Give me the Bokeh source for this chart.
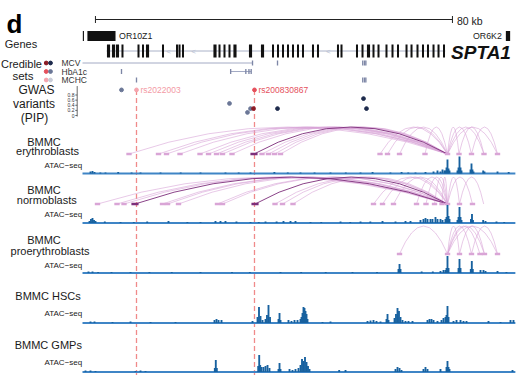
from bokeh.plotting import figure
from bokeh.models import Range1d
from bokeh.core.properties import value
from bokeh.embed import file_html
from bokeh.resources import INLINE

FONT = "Liberation Sans"

# ---------------- DATA (genomic positions in kb from the left edge of the view) ----------------
view_end_kb = 97.0
scale_bar_start_kb = 2.9
scale_bar_kb = 80

small_gene_names = ["OR10Z1", "OR6K2"]
small_gene_start = [1.1, 94.87]
small_gene_end = [7.4, 95.83]
or10z1_extra_exon = [0.2]

spta1_start = 5.4
spta1_end = 81.3
spta1_exons = [5.83, 6.95, 7.84, 8.96, 12.55, 13.56, 14.57, 18.04, 21.18, 21.74, 22.52,
               29.69, 30.70, 31.82, 32.94, 34.17, 37.65, 40.34, 42.69, 43.81, 44.93, 46.05,
               47.17, 48.29, 49.41, 51.65, 52.77, 57.25, 58.04, 61.51, 62.75, 64.09, 65.21,
               66.33, 68.12, 69.47, 70.70, 72.61, 73.73, 75.07, 76.30, 77.42, 78.66, 79.78, 81.01]
spta1_thick_exons = [5.83, 6.95, 7.84, 14.57, 29.69, 34.17, 37.65, 40.34, 64.09]
spta1_arrows = [19.3, 24.9, 55.1]

traits = ["MCV", "HbA1c", "MCHC"]
trait_lead_color = ["#8b1c26", "#e5505c", "#f5a5ae"]
trait_other_color = ["#1d2a4c", "#6b7797", "#c9cdd9"]

cs_span_trait = ["MCV", "HbA1c"]
cs_span_start = [0.0, 33.2]
cs_span_end = [38.1, 37.8]
cs_var_trait = ["MCV", "MCV", "MCV", "MCV", "MCV",
                "HbA1c", "HbA1c", "HbA1c", "HbA1c", "HbA1c",
                "MCHC", "MCHC", "MCHC", "MCHC"]
cs_var_pos = [38.1, 43.7, 62.8, 63.2, 63.5,
              8.74, 33.2, 36.6, 37.3, 37.8,
              12.1, 62.8, 63.2, 63.5]

gw_pos = [8.74, 12.1, 32.94, 36.97, 37.65, 38.32, 38.54, 43.7, 62.97, 63.64]
gw_pip = [1.0, 1.0, 0.47, 0.12, 0.27, 0.27, 1.0, 0.27, 0.66, 0.27]
gw_trait = ["HbA1c", "MCHC", "HbA1c", "HbA1c", "HbA1c", "MCV", "HbA1c", "MCV", "MCV", "MCV"]
gw_lead = [False, True, False, False, False, True, True, False, False, False]
pip_ticks = [0, 0.2, 0.4, 0.6, 0.8]
pip_tick_labels = ["0", "0.2", "0.4", "0.6", "0.8"]

hl_names = ["rs2022003", "rs200830867"]
hl_pos = [12.1, 38.54]
hl_pip = [1.0, 1.0]
hl_colors = ["#f39aa5", "#e5505c"]

hub_kb = 81.8
ery_anchors = [10.42, 17.03, 18.82, 21.85, 26.33, 28.24, 30.03, 31.37, 33.50, 38.43, 40.22,
               41.68, 43.03, 44.37, 66.67, 68.35, 71.04, 76.75, 84.37, 87.17, 89.97, 93.0]
ery_strong = [38.43]
ery_extra_start = [84.37, 87.17]
ery_extra_end = [89.97, 93.0]

nor_anchors = [3.36, 7.73, 9.30, 11.76, 17.93, 19.05, 21.51, 30.25, 31.37, 38.66, 43.14,
               44.82, 47.17, 65.21, 67.23, 69.69, 74.85, 76.97, 78.88, 80.56, 84.48, 87.39]
nor_strong = [11.76, 38.66]
nor_extra_start = [84.48]
nor_extra_end = [89.9]

pro_anchors = [71.04, 84.48, 87.17, 89.07, 90.08, 93.0]
pro_strong = []
pro_extra_start = [84.48, 87.17]
pro_extra_end = [90.08, 93.0]

ery_x = [1.79, 2.24, 2.69, 5.15, 13.0, 17.48, 26.44, 32.04, 37.65, 48.85, 55.57, 62.30, 69.0,
         74.62, 76.86, 78.66, 79.55, 80.22, 80.67, 81.12, 81.34, 81.57, 81.79, 82.02, 82.24,
         84.03, 84.26, 84.48, 84.71, 84.93, 86.95, 87.17, 87.39, 87.62, 89.79, 90.08, 93.0]
ery_h = [2, 2.5, 1.5, 1, 1, 1, 1, 1, 1, 1, 1, 1, 1,
         1, 1.5, 2, 3, 2, 4, 3, 3, 6, 14, 5, 3,
         3, 6, 17, 6, 3, 4, 10, 4, 2, 3, 2, 2]
ery_bg_x = [4.0, 8.0, 11.0, 22.0, 35.0, 43.0, 46.0, 52.0, 59.0, 65.0, 71.5, 73.0, 95.5]
ery_bg_h = [1, 1.5, 1, 1, 1, 1.5, 1, 1, 1, 1.5, 1.5, 1, 1.5]

nor_x = [1.57, 1.90, 2.24, 2.58, 2.91, 8.52, 19.27, 26.44, 29.80, 30.92, 32.04, 37.65, 41.01,
         45.04, 46.61, 47.73, 51.09, 57.82, 62.30, 67.23, 70.14, 72.38, 73.50, 75.74, 76.41,
         76.86, 77.31, 77.98, 78.43, 79.10, 79.55, 80.22, 80.67, 81.34, 81.57, 81.79, 82.02,
         82.24, 84.03, 84.26, 84.48, 84.71, 84.93, 87.05, 87.28, 87.50, 89.79, 90.31, 92.77]
nor_h = [2, 4, 5, 3, 2, 1, 2, 1, 2, 2, 2, 1, 1.5,
         2, 2, 2, 1, 1.5, 1.5, 2, 1.5, 2, 2, 3, 4,
         5, 4, 4, 4, 6, 4, 4, 3, 4, 6, 18, 7,
         4, 3, 6, 16, 6, 3, 4, 9, 3, 3, 2, 1.5]
nor_bg_x = [5.0, 11.5, 14.5, 23.5, 34.5, 39.5, 43.5, 53.5, 60.0, 64.5, 94.5]
nor_bg_h = [1.5, 1, 1.5, 1, 1.5, 1, 1.5, 1, 1, 1.5, 1]

pro_x = [1.34, 2.24, 10.76, 26.44, 44.37, 70.81, 71.04, 71.26, 80.22, 80.90, 81.34, 81.57,
         81.79, 82.02, 84.26, 84.48, 84.71, 87.01, 87.24, 87.46, 89.19, 89.86, 90.31, 93.0]
pro_h = [1.5, 1.5, 1, 1, 1, 4, 9, 4, 2, 3, 3, 5,
         17, 5, 5, 14, 5, 4, 12, 4, 3, 3, 2, 2]
pro_bg_x = [3.5, 6.5, 15.0, 20.0, 33.5, 37.5, 49.0, 54.5, 60.5, 66.0, 76.0, 78.5, 95.0]
pro_bg_h = [1, 1, 1, 1, 1, 1, 1, 1, 1, 1, 1.5, 1.5, 1]

hsc_x = [1.79, 2.69, 6.72, 10.76, 15.24, 20.84, 29.58, 30.03, 30.48, 31.15, 38.10, 39.22,
         39.55, 39.89, 40.34, 41.01, 41.34, 41.68, 42.02, 43.92, 44.15, 44.37, 46.16, 46.83,
         47.51, 48.18, 48.85, 49.08, 49.30, 49.52, 49.75, 49.97, 50.20, 50.42, 53.78, 55.57,
         63.87, 64.54, 65.21, 65.88, 66.78, 68.12, 68.35, 68.57, 69.92, 70.25, 70.59, 70.92,
         71.26, 71.71, 72.38, 73.05, 73.95, 77.31, 77.76, 78.21, 78.66, 79.55, 80.45, 80.90,
         81.34, 81.57, 81.79, 82.02, 83.14, 83.81, 84.71, 85.38, 86.05, 90.98, 93.67, 95.91, 96.58]
hsc_h = [1.5, 1.5, 1, 1.5, 1, 1, 3, 4, 3, 3, 2, 6,
         16, 7, 3, 4, 8, 18, 6, 4, 10, 3, 3, 2,
         3, 3, 4, 6, 10, 16, 15, 12, 9, 4, 1, 1.5,
         2, 2.5, 3, 2, 1.5, 4, 9, 3, 5, 9, 15, 12,
         6, 3, 2, 2, 2, 3, 4, 4, 3, 2, 3, 5,
         6, 8, 17, 6, 2, 3, 3, 2, 2, 2, 1, 3, 3]

gmp_x = [0.67, 1.79, 2.91, 11.88, 13.0, 14.12, 29.65, 29.87, 30.10, 39.37, 39.60, 39.82,
         40.11, 40.56, 41.01, 41.46, 41.90, 43.92, 44.15, 44.37, 46.39, 47.06, 47.73, 48.40,
         48.85, 49.19, 49.52, 49.86, 50.20, 50.53, 50.87, 57.52, 58.94, 70.14, 70.59, 71.04,
         71.48, 76.41, 76.86, 77.31, 80.22, 81.57, 81.79, 82.02, 82.24, 96.36]
gmp_h = [1.5, 1.5, 1, 1, 1.5, 1, 4, 12, 4, 6, 17, 7,
         5, 5, 6, 7, 4, 3, 9, 3, 3, 2, 3, 4,
         7, 13, 11, 15, 10, 6, 3, 2, 2, 3, 5, 4,
         2, 3, 5, 3, 3, 5, 11, 5, 3, 2]

# ---------------- LAYOUT (canvas pixel = picture pixel) ----------------
W, H = 520, 378
PX_PER_KB = 4.4625
TRACK_LEFT_PX = 82
X0 = -TRACK_LEFT_PX / PX_PER_KB
X1 = X0 + W / PX_PER_KB


def kx(px):
    """layout helper: picture pixel x -> kb position"""
    return (px - TRACK_LEFT_PX) / PX_PER_KB


def track_range(base_y, px_per_unit=1.0):
    return Range1d(start=-(H - base_y) / px_per_unit, end=base_y / px_per_unit)


p = figure(width=W, height=H, x_range=Range1d(X0, X1), y_range=Range1d(H, 0),
           output_backend="svg", toolbar_location=None, x_axis_type=None, y_axis_type=None,
           min_border=0, outline_line_color=None)
p.xgrid.visible = False
p.ygrid.visible = False
p.background_fill_color = "white"
p.border_fill_color = "white"

PIP_ZERO_Y, PIP_PX = 115, 25.6
p.extra_y_ranges = {
    "pip": track_range(PIP_ZERO_Y, PIP_PX),
    "ery": track_range(173),
    "nor": track_range(222.5),
    "pro": track_range(272.5),
    "hsc": track_range(322.5),
    "gmp": track_range(371.5),
}


def label(x_px, y, txt, size, align="center", color="#1a1a1a", style="normal", baseline="middle"):
    p.text(x=[kx(x_px)], y=[y], text=[txt], text_font=value(FONT), text_font_size=f"{size}px",
           text_align=align, text_baseline=baseline, text_color=color, text_font_style=style)


# scale bar
sb_end = scale_bar_start_kb + scale_bar_kb
p.segment(x0=[scale_bar_start_kb], x1=[sb_end], y0=[19], y1=[19], line_color="#222", line_width=1)
p.segment(x0=[scale_bar_start_kb, sb_end], x1=[scale_bar_start_kb, sb_end], y0=[15.5, 15.5],
          y1=[22.5, 22.5], line_color="#222", line_width=1)
p.text(x=[sb_end + 1.0], y=[20.5], text=[f"{scale_bar_kb} kb"], text_font=value(FONT),
       text_font_size="10.5px", text_baseline="middle", text_color="#1a1a1a")

# genes
GENE_Y = 50.5
p.segment(x0=[spta1_start], x1=[spta1_end], y0=[GENE_Y], y1=[GENE_Y], line_color="#aab2c8", line_width=1)
p.text(x=spta1_arrows, y=[GENE_Y] * len(spta1_arrows), text=["<"] * len(spta1_arrows),
       text_font=value(FONT), text_font_size="8px", text_align="center", text_baseline="middle",
       text_color="#b8c0d2")
ex_w = [0.7 if e in spta1_thick_exons else 0.45 for e in spta1_exons]
p.rect(x=spta1_exons, y=[GENE_Y] * len(spta1_exons), width=ex_w, height=13,
       fill_color="#111111", line_color=None)
p.text(x=[spta1_end + 1.3], y=[51.5], text=["SPTA1"], text_font=value(FONT), text_font_size="19px",
       text_font_style="bold italic", text_baseline="middle", text_color="#111111")

SMALL_Y = 35.5
p.rect(x=[(s + e) / 2 for s, e in zip(small_gene_start, small_gene_end)], y=[SMALL_Y] * 2,
       width=[e - s for s, e in zip(small_gene_start, small_gene_end)], height=10,
       fill_color="#111111", line_color=None)
p.rect(x=or10z1_extra_exon, y=[SMALL_Y], width=0.25, height=10, fill_color="#111111", line_color=None)
p.text(x=[small_gene_end[0] + 0.8], y=[35], text=[small_gene_names[0]], text_font=value(FONT),
       text_font_size="8.8px", text_baseline="middle", text_color="#1a1a1a")
p.text(x=[small_gene_start[1] - 0.9], y=[35], text=[small_gene_names[1]], text_font=value(FONT),
       text_font_size="8.8px", text_align="right", text_baseline="middle", text_color="#1a1a1a")

# credible sets
row_y = {"MCV": 62.5, "HbA1c": 71, "MCHC": 79.5}
p.segment(x0=cs_span_start, x1=cs_span_end, y0=[row_y[t] for t in cs_span_trait],
          y1=[row_y[t] for t in cs_span_trait], line_color="#a3aac4", line_width=1)
p.rect(x=cs_var_pos, y=[row_y[t] for t in cs_var_trait], width=0.3, height=5,
       fill_color="#7d86a6", line_color=None)
for i, t in enumerate(traits):
    p.scatter(x=[kx(45.7), kx(50)], y=[row_y[t]] * 2, size=3.8,
              color=[trait_lead_color[i], trait_other_color[i]])
    label(61, row_y[t], t, 8.5, align="left", color="#333333")

# GWAS PIP
p.segment(x0=[kx(76.7)], x1=[kx(76.7)], y0=[-0.04], y1=[1.15], y_range_name="pip",
          line_color="#444", line_width=0.8)
p.segment(x0=[kx(74.8)] * len(pip_ticks), x1=[kx(76.7)] * len(pip_ticks), y0=pip_ticks, y1=pip_ticks,
          y_range_name="pip", line_color="#444", line_width=0.8)
p.text(x=[kx(74)] * len(pip_ticks), y=pip_ticks, text=pip_tick_labels, text_font=value(FONT),
       text_font_size="5px", text_align="right", text_baseline="middle", text_color="#333",
       y_range_name="pip")

# dashed highlight lines
pip_bottom = p.extra_y_ranges["pip"].start
p.segment(x0=hl_pos, x1=hl_pos, y0=hl_pip, y1=[pip_bottom] * len(hl_pos), y_range_name="pip",
          line_color="#f08a8a", line_width=1.3, line_dash="5 3")

gw_colors = []
for t, lead in zip(gw_trait, gw_lead):
    i = traits.index(t)
    gw_colors.append(trait_lead_color[i] if lead else trait_other_color[i])
p.scatter(x=gw_pos, y=gw_pip, size=3.8, color=gw_colors, y_range_name="pip")
p.text(x=[x + 0.9 for x in hl_pos], y=hl_pip, text=hl_names, text_font=value(FONT),
       text_font_size="8.5px", text_baseline="middle", text_color=hl_colors, y_range_name="pip")

# loops
LIGHT, DARK = "#d9a5d6", "#7d2f7b"


def loops(anchors, strong, extra_s, extra_e, base, h):
    starts = list(anchors) + list(extra_s)
    ends = [hub_kb] * len(anchors) + list(extra_e)
    light = [(s, e) for s, e in zip(starts, ends) if s not in strong]
    dark = [(s, e) for s, e in zip(starts, ends) if s in strong]
    for group, col, alpha, lw in ((light, LIGHT, 0.75, 0.8), (dark, DARK, 0.9, 1.0)):
        if not group:
            continue
        xs0 = [g[0] for g in group]
        xs1 = [g[1] for g in group]
        p.quadratic(x0=xs0, y0=[base] * len(group), x1=xs1, y1=[base] * len(group),
                    cx=[(a + b) / 2 for a, b in group], cy=[base - 2 * h] * len(group),
                    line_color=col, line_alpha=alpha, line_width=lw)
    lt = [a for a in list(anchors) + [hub_kb] if a not in strong]
    p.rect(x=lt, y=[base] * len(lt), width=1.2, height=2.5, fill_color=LIGHT, line_color=None)
    if strong:
        p.rect(x=strong, y=[base] * len(strong), width=1.6, height=2.5, fill_color=DARK, line_color=None)


loops(ery_anchors, ery_strong, ery_extra_start, ery_extra_end, 153.5, 27)
loops(nor_anchors, nor_strong, nor_extra_start, nor_extra_end, 203.5, 27)
loops(pro_anchors, pro_strong, pro_extra_start, pro_extra_end, 253.5, 28)

# ATAC tracks
tracks = (("ery", ery_x + ery_bg_x, ery_h + ery_bg_h),
          ("nor", nor_x + nor_bg_x, nor_h + nor_bg_h),
          ("pro", pro_x + pro_bg_x, pro_h + pro_bg_h),
          ("hsc", hsc_x, hsc_h),
          ("gmp", gmp_x, gmp_h))
for name, xs, hs in tracks:
    p.segment(x0=[0], x1=[view_end_kb], y0=[0], y1=[0], y_range_name=name,
              line_color="#3f85c6", line_width=1.8)
    p.vbar(x=xs, top=hs, bottom=0, width=0.42, y_range_name=name, fill_color="#17619f",
           line_color=None)

# left labels
label(6, 23.8, "d", 26, align="left", style="bold", color="#000000", baseline="alphabetic")
label(20.5, 43, "Genes", 11)
label(21, 63.3, "Credible", 11)
label(22.5, 75.5, "sets", 11.5)
label(36, 89, "GWAS", 12)
label(33.5, 103, "variants", 12)
label(34, 117, "(PIP)", 12)
label(43.5, 141, "BMMC", 11)
label(47, 150.5, "erythroblasts", 11)
label(43.5, 189, "BMMC", 11)
label(46.3, 199.5, "normoblasts", 11)
label(43.5, 239, "BMMC", 11)
label(49.5, 250, "proerythroblasts", 11)
label(47.5, 295, "BMMC HSCs", 11)
label(47.8, 344, "BMMC GMPs", 11)
for yy in (165, 214, 265, 313, 362):
    label(81.7, yy, "ATAC\u2212seq", 8, align="right")

open("out.html", "w").write(file_html(p, INLINE))
